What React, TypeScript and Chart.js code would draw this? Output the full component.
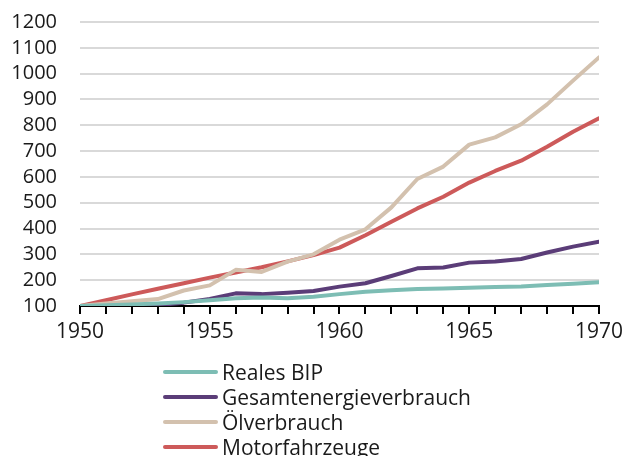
import React, { useEffect, useRef } from "react";
import { Chart, registerables } from "chart.js";

Chart.register(...registerables);

const years = [1950, 1951, 1952, 1953, 1954, 1955, 1956, 1957, 1958, 1959, 1960, 1961, 1962, 1963, 1964, 1965, 1966, 1967, 1968, 1969, 1970];
const realesBIP = [100, 103, 106, 110, 115, 122, 130, 133, 130, 136, 146, 155, 161, 166, 168, 171, 174, 176, 181, 186, 192];
const gesamtenergie = [100, 100, 101, 103, 113, 127, 149, 146, 151, 158, 175, 188, 216, 246, 249, 268, 272, 282, 307, 330, 349];
const oelverbrauch = [100, 110, 118, 127, 160, 180, 240, 232, 272, 300, 357, 397, 482, 592, 640, 725, 753, 804, 881, 973, 1063];
const motorfahrzeuge = [100, 122, 145, 167, 188, 210, 230, 250, 273, 297, 326, 374, 426, 478, 523, 578, 623, 663, 717, 775, 827];
const seriesNames = ["Reales BIP", "Gesamtenergieverbrauch", "Ölverbrauch", "Motorfahrzeuge"];
const seriesColors = ["#7dbdb4", "#5b3d78", "#d3c1ae", "#cd5a5a"];
const yMin = 100;
const yMax = 1200;

const FONT = "'Open Sans', 'DejaVu Sans', sans-serif";

export default function App() {
  const ref = useRef<HTMLCanvasElement | null>(null);

  useEffect(() => {
    document.body.style.margin = "0";
    const values = [realesBIP, gesamtenergie, oelverbrauch, motorfahrzeuge];
    const chart = new Chart(ref.current as HTMLCanvasElement, {
      type: "line",
      data: {
        datasets: values.map((vals, i) => ({
          label: seriesNames[i],
          data: years.map((yr, j) => ({ x: yr, y: vals[j] })),
          borderColor: seriesColors[i],
          backgroundColor: seriesColors[i],
          borderWidth: 4,
          pointRadius: 0,
          borderJoinStyle: "round" as const,
          borderCapStyle: "round" as const,
          tension: 0,
        })),
      },
      options: {
        responsive: false,
        animation: false,
        layout: { padding: { top: 22, right: 28, left: 0, bottom: 0 } },
        plugins: { legend: { display: false }, tooltip: { enabled: false } },
        scales: {
          x: {
            type: "linear",
            min: 1950,
            max: 1970,
            afterFit: (s: any) => {
              s.height = 150;
            },
            border: { display: true, color: "#000", width: 2 },
            grid: {
              drawOnChartArea: false,
              drawTicks: true,
              tickLength: 8,
              color: "#000",
              lineWidth: 2,
            },
            ticks: {
              stepSize: 1,
              autoSkip: false,
              maxRotation: 0,
              padding: 5,
              color: "#1a1a1a",
              font: { family: FONT, size: 21 },
              callback: (v: any) => (Number(v) % 5 === 0 ? String(v) : ""),
            },
          },
          y: {
            min: yMin,
            max: yMax,
            afterFit: (s: any) => {
              s.width = 80;
            },
            border: { display: false },
            grid: { color: "#d9d9d9", lineWidth: 2, drawTicks: true, tickLength: 23, tickColor: "rgba(0,0,0,0)" },
            ticks: {
              stepSize: 100,
              autoSkip: false,
              padding: 0,
              color: "#1a1a1a",
              font: { family: FONT, size: 20 },
              callback: (v: any) => String(v),
            },
          },
        },
      },
    });
    return () => chart.destroy();
  }, []);

  return (
    <div style={{ position: "relative", width: 628, height: 456, overflow: "hidden", background: "#fff" }}>
      <canvas ref={ref} width={628} height={456} style={{ position: "absolute", left: 0, top: 0 }} />
      <div style={{ position: "absolute", left: 163, top: 359, fontFamily: FONT, fontSize: 21, color: "#1a1a1a" }}>
        {seriesNames.map((n, i) => (
          <div key={n} style={{ display: "flex", alignItems: "center", height: 25, whiteSpace: "nowrap" }}>
            <span style={{ display: "inline-block", width: 55, height: 4, background: seriesColors[i], borderRadius: 2, marginRight: 4 }} />
            <span>{n}</span>
          </div>
        ))}
      </div>
    </div>
  );
}
